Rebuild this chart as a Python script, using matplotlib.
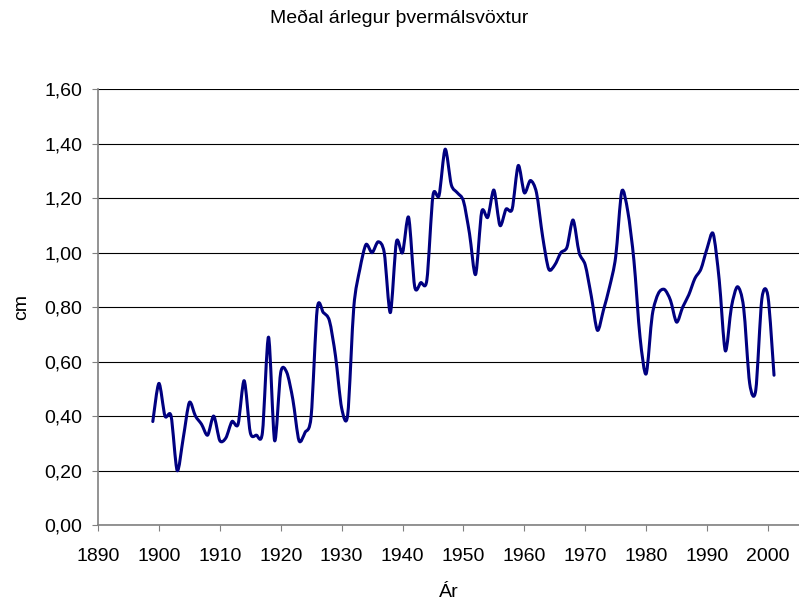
import matplotlib
matplotlib.use("Agg")
import matplotlib.pyplot as plt
from matplotlib.path import Path
from matplotlib.patches import PathPatch
from matplotlib.ticker import FuncFormatter

plt.rcParams['font.family'] = ['Liberation Sans', 'DejaVu Sans']

TITLE = "Meðal árlegur þvermálsvöxtur"
X_LABEL = "Ár"
Y_LABEL = "cm"
LINE_COLOR = "#000080"
TENSION = 0.14  # stýrir sléttun línunnar

# Ár og meðalvöxtur (cm), lesið af myndinni
years = list(range(1899, 2002))
growth = [
    0.38, 0.52, 0.40, 0.40, 0.20, 0.32, 0.45, 0.40, 0.37, 0.33,  # 1899-1908
    0.40, 0.31, 0.32, 0.38, 0.37, 0.53, 0.34, 0.33, 0.34, 0.69,  # 1909-1918
    0.31, 0.56, 0.56, 0.46, 0.31, 0.34, 0.40, 0.795, 0.78, 0.75,  # 1919-1928
    0.62, 0.43, 0.405, 0.80, 0.94, 1.03, 1.00, 1.04, 1.00, 0.78,  # 1929-1938
    1.04, 1.00, 1.13, 0.875, 0.89, 0.90, 1.21, 1.21, 1.38, 1.25,  # 1939-1948
    1.22, 1.19, 1.07, 0.92, 1.15, 1.13, 1.23, 1.10, 1.16, 1.16,  # 1949-1958
    1.32, 1.22, 1.265, 1.22, 1.06, 0.94, 0.955, 1.00, 1.02, 1.12,  # 1959-1968
    1.00, 0.955, 0.84, 0.715, 0.79, 0.875, 0.985, 1.225, 1.15, 0.97,  # 1969-1978
    0.69, 0.555, 0.77, 0.85, 0.865, 0.825, 0.745, 0.80, 0.845, 0.905,  # 1979-1988
    0.94, 1.015, 1.07, 0.90, 0.64, 0.80, 0.875, 0.80, 0.52, 0.495,  # 1989-1998
    0.83, 0.84, 0.55,  # 1999-2001
]

x_ticks = list(range(1890, 2001, 10))
y_ticks = [0.0, 0.2, 0.4, 0.6, 0.8, 1.0, 1.2, 1.4, 1.6]


def smooth_path(xs, ys, t=TENSION):
    # Bezier-slétting líkt og í Excel
    pts = list(zip(xs, ys))
    n = len(pts)
    verts = [pts[0]]
    codes = [Path.MOVETO]
    for i in range(n - 1):
        p0 = pts[i - 1] if i > 0 else pts[i]
        p1 = pts[i]
        p2 = pts[i + 1]
        p3 = pts[i + 2] if i + 2 < n else pts[i + 1]
        c1 = (p1[0] + (p2[0] - p0[0]) * t, p1[1] + (p2[1] - p0[1]) * t)
        c2 = (p2[0] - (p3[0] - p1[0]) * t, p2[1] - (p3[1] - p1[1]) * t)
        verts += [c1, c2, p2]
        codes += [Path.CURVE4] * 3
    return Path(verts, codes)


fig = plt.figure(figsize=(7.99, 6.06), dpi=100)
ax = fig.add_axes([98 / 799, 1 - 525 / 606, 701 / 799, (525 - 89.3) / 606])

patch = PathPatch(smooth_path(years, growth), facecolor="none",
                  edgecolor=LINE_COLOR, linewidth=2.2, capstyle="round",
                  joinstyle="round", zorder=3)
ax.add_patch(patch)

ax.set_xlim(1890, 2005.1)
ax.set_ylim(0, 1.6)
ax.set_xticks(x_ticks)
ax.set_yticks(y_ticks)
ax.yaxis.set_major_formatter(FuncFormatter(lambda v, p: f"{v:.2f}".replace(".", ",")))

ax.grid(axis="y", color="black", linewidth=0.8)
ax.set_axisbelow(True)
for side in ("top", "right"):
    ax.spines[side].set_visible(False)
for side in ("left", "bottom"):
    ax.spines[side].set_color("#808080")
    ax.spines[side].set_linewidth(1.2)

ax.tick_params(axis="both", direction="out", length=4.3, width=0.8,
               color="#808080", labelsize=14)
ax.tick_params(axis="y", pad=7)
ax.tick_params(axis="x", pad=12)

ax.set_xlabel(X_LABEL, fontsize=14, labelpad=14)
ax.set_ylabel(Y_LABEL, fontsize=14, labelpad=10)
fig.text(0.5, 1 - 18 / 606, TITLE, fontsize=14, ha="center", va="center")

fig.savefig("out.png", dpi=100)
